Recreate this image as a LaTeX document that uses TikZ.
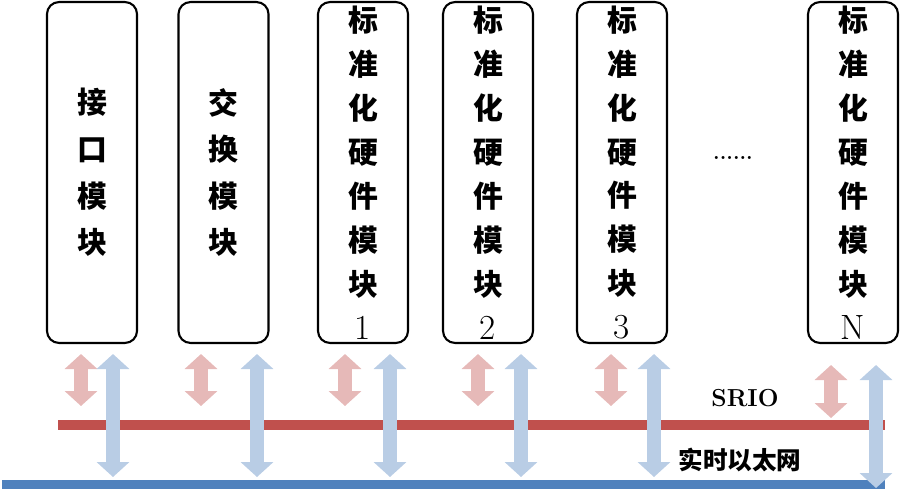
\documentclass[tikz,border=0pt]{standalone}
\usepackage{fontspec}
\newfontfamily\cjk{Noto Sans CJK SC}
\usetikzlibrary{arrows.meta, calc}
\definecolor{srioRed}{HTML}{C0504D}
\definecolor{ethBlue}{HTML}{4F81BD}
\definecolor{pinkArr}{HTML}{E6B9B8}
\definecolor{blueArr}{HTML}{B9CDE5}

\begin{document}
\begin{tikzpicture}[x = 0.02cm, y = -0.02cm, % one unit per pixel, y grows downwards
                > = {Triangle[width = 0.64cm, length = 0.3cm]}, % fat arrow heads
                semithick % line style
            ]

            \tikzstyle{modbox}=[draw = black, line width = 1.2pt,
            rounded corners = 0.24cm, minimum width = 1.8cm,
            minimum height = 6.82cm, inner sep = 0pt, align = center,
            font = \cjk\bfseries\fontsize{17}{25}\selectfont]
            \tikzstyle{pinkarr}=[<->, draw = pinkArr, line width = 0.28cm]
            \tikzstyle{bluearr}=[<->, draw = blueArr, line width = 0.28cm]
            \tikzstyle{bus}=[line width = 0.2cm]

            \useasboundingbox (0,0) rectangle (901,489);

            % modules
            \node[modbox, font = \cjk\bfseries\fontsize{17}{26.5}\selectfont]
                (ifc) at (92,172.5) {接\\口\\模\\块};
            \node[modbox, font = \cjk\bfseries\fontsize{17}{26.5}\selectfont]
                (swt) at (223.5,172.5) {交\\换\\模\\块};
            \node[modbox] (std1) at (363,172.5) {标\\准\\化\\硬\\件\\模\\块\\{\rmfamily\mdseries\fontsize{20}{25}\selectfont 1}};
            \node[modbox] (std2) at (488,172.5) {标\\准\\化\\硬\\件\\模\\块\\{\rmfamily\mdseries\fontsize{20}{25}\selectfont 2}};
            \node[modbox] (std3) at (622,172.5) {标\\准\\化\\硬\\件\\模\\块\\{\rmfamily\mdseries\fontsize{20}{25}\selectfont 3}};
            \node[modbox] (stdN) at (853,172.5) {标\\准\\化\\硬\\件\\模\\块\\{\rmfamily\mdseries\fontsize{20}{25}\selectfont N}};
            \node[font = \bfseries\fontsize{12}{14}\selectfont] (dots) at (733,158) {......};

            % buses
            \coordinate (srioW) at (58,425); \coordinate (srioE) at (885,425);
            \coordinate (ethW) at (2,485); \coordinate (ethE) at (885,485);
            \draw[bus, srioRed] (srioW) -- (srioE);
            \draw[bus, ethBlue] (ethW) -- (ethE);
            \node[font = \bfseries\fontsize{14}{16}\selectfont\addfontfeature{LetterSpace=6}]
                (srio) at (745,398) {SRIO};
            \node[font = \cjk\bfseries\fontsize{14}{16}\selectfont] (eth) at (740,460) {实时以太网};

            % links
            \draw[pinkarr] ($(ifc.south)+(-11,10)$) -- ++(0,52);
            \draw[bluearr] ($(ifc.south)+(21,10)$) -- ++(0,123);
            \draw[pinkarr] ($(swt.south)+(-22.5,10)$) -- ++(0,52);
            \draw[bluearr] ($(swt.south)+(33.5,10)$) -- ++(0,123);
            \draw[pinkarr] ($(std1.south)+(-18,10)$) -- ++(0,52);
            \draw[bluearr] ($(std1.south)+(27,10)$) -- ++(0,123);
            \draw[pinkarr] ($(std2.south)+(-10,10)$) -- ++(0,52);
            \draw[bluearr] ($(std2.south)+(33,10)$) -- ++(0,123);
            \draw[pinkarr] ($(std3.south)+(-11,10)$) -- ++(0,52);
            \draw[bluearr] ($(std3.south)+(32,10)$) -- ++(0,123);
            \draw[pinkarr] ($(stdN.south)+(-22,21)$) -- ++(0,53);
            \draw[bluearr] ($(stdN.south)+(23,21)$) -- ++(0,123);
\end{tikzpicture}
\end{document}
